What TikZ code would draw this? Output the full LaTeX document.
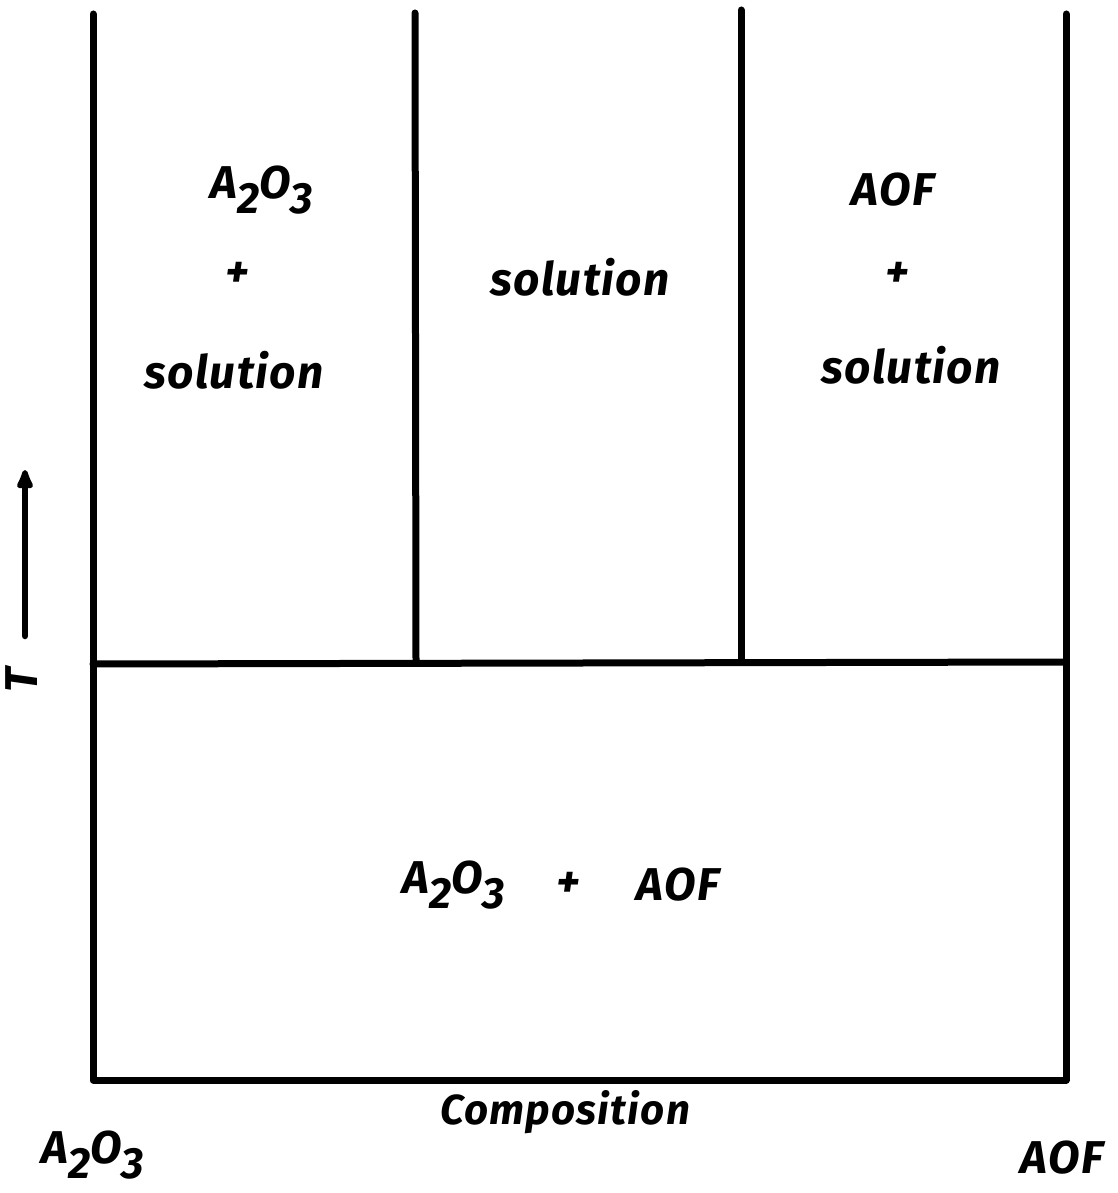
\documentclass[tikz,border=0pt]{standalone}
\usepackage{fontspec}
\setmainfont{Fira Sans}
\newfontfamily\hand[LetterSpace=3]{Fira Sans}
\usetikzlibrary{arrows.meta}
\newcommand\lowsub[1]{\raisebox{-0.65ex}{\scalebox{0.95}{#1}}}
\begin{document}
\begin{tikzpicture}[x=1pt,y=-1pt,
  bnd/.style={line width=7pt,line cap=round,line join=round},
  lbl/.style={font=\hand\fontsize{46}{50}\selectfont\bfseries\itshape,inner sep=0pt},
  axlbl/.style={font=\hand\fontsize{42}{46}\selectfont\bfseries\itshape,inner sep=0pt}]
\useasboundingbox (0,0) rectangle (1118,1193);
% frame corners
\coordinate (tl) at (93,14);
\coordinate (bl) at (93,1080);
\coordinate (br) at (1066,1080);
\coordinate (tr) at (1066,14);
\coordinate (el) at (93,664);
\coordinate (er) at (1066,662);
\coordinate (a1) at (415,13);
\coordinate (a2) at (416,662);
\coordinate (b1) at (741,10);
\coordinate (b2) at (741,662);
\draw[bnd] (tl) -- (bl) -- (br) -- (tr);
\draw[bnd] (el) -- (er);
\draw[bnd] (a1) -- (a2);
\draw[bnd] (b1) -- (b2);
% T arrow
\coordinate (ts) at (25,636);
\coordinate (te) at (25,470);
\draw[line width=6.5pt,line cap=round,-{Latex[length=26pt,width=20pt,round]}] (ts) -- (te);
\node[lbl,rotate=90] (T) at (22,680) {T};
% labels
\node[lbl] (l1) at (262,190) {A\lowsub{2}O\lowsub{3}};
\node[lbl] (p1) at (237,275) {+};
\node[lbl] (s1) at (234,370) {solution};
\node[lbl] (s2) at (580,277) {solution};
\node[lbl] (l3) at (893,190) {AOF};
\node[lbl] (p3) at (897,275) {+};
\node[lbl] (s3) at (911,365) {solution};
\node[lbl] (low1) at (454,885) {A\lowsub{2}O\lowsub{3}};
\node[lbl] (low2) at (568,885) {+};
\node[lbl] (low3) at (678,885) {AOF};
\node[axlbl] (comp) at (565,1112) {Composition};
\node[lbl] (xa) at (93,1155) {A\lowsub{2}O\lowsub{3}};
\node[lbl] (xb) at (1062,1158) {AOF};
\end{tikzpicture}
\end{document}
